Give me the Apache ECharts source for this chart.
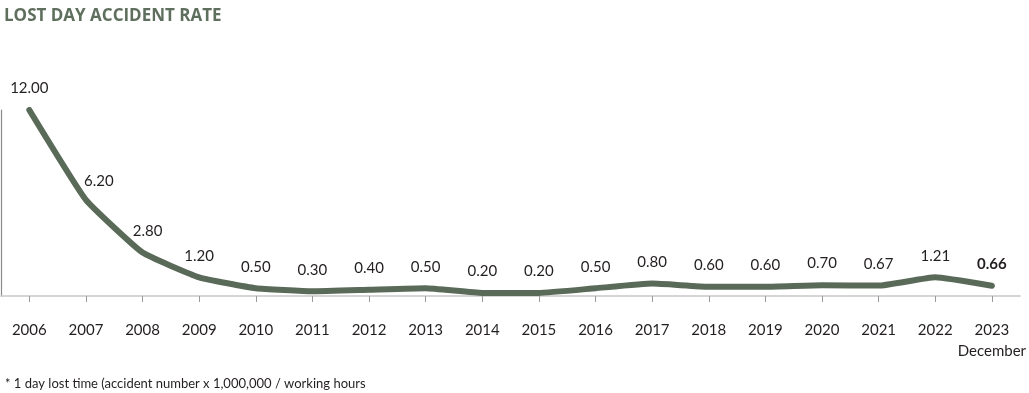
<!DOCTYPE html>
<html><head><meta charset="utf-8">
<script src="https://cdn.jsdelivr.net/npm/echarts@6/dist/echarts.min.js"></script>
<style>html,body{margin:0;padding:0;background:#fff}#c{width:1029px;height:393px}</style>
</head><body><div id="c"></div>
<script>
const titleText = 'LOST DAY ACCIDENT RATE';
const footnote = '* 1 day lost time (accident number x 1,000,000 / working hours';
const years = ['2006','2007','2008','2009','2010','2011','2012','2013','2014','2015','2016','2017','2018','2019','2020','2021','2022','2023\nDecember'];
const rates = [12.00, 6.20, 2.80, 1.20, 0.50, 0.30, 0.40, 0.50, 0.20, 0.20, 0.50, 0.80, 0.60, 0.60, 0.70, 0.67, 1.21, 0.66];

const chart = echarts.init(document.getElementById('c'), null, {renderer:'canvas'});
const lineColor = '#5a6a58';
const txt = '#231f20';
const font = 'Lato';
chart.setOption({
  animation:false,
  title:[{text:titleText, left:-1, top:3, textStyle:{fontFamily:'Open Sans', fontWeight:'bold', fontSize:17, color:'#5f6f5d'}},
         {text:footnote, left:0, top:372, textStyle:{fontFamily:font, fontWeight:'normal', fontSize:13, color:txt}}],
  grid:{left:1, right:8, top:110, bottom:97},
  xAxis:{type:'category', data:years, boundaryGap:true,
    axisLine:{lineStyle:{color:'#c8c8c8', width:1.5}},
    axisTick:{show:true, alignWithLabel:true, length:6, lineStyle:{color:'#9a9a9a', width:1}},
    axisLabel:{fontFamily:font, fontSize:15, color:txt, margin:24, lineHeight:21, interval:0}},
  yAxis:{type:'value', min:0, max:12, axisLine:{show:true, lineStyle:{color:'#8a8a8a', width:1.2}},
    axisLabel:{show:false}, axisTick:{show:false}, splitLine:{show:false}},
  series:[{type:'line', data:rates, smooth:0.12, symbol:'circle', symbolSize:0.1, showSymbol:true,
    itemStyle:{color:lineColor},
    lineStyle:{color:lineColor, width:6, cap:'round', join:'round'},
    labelLayout:p => ({hideOverlap:false, dx: p.dataIndex === 1 ? 13 : (p.dataIndex === 2 ? 5 : 0), dy: p.dataIndex === 1 ? 3 : 0}),
    label:{show:true, position:'top', distance:14, fontFamily:font, fontSize:15, color:txt,
      formatter:p => p.dataIndex === rates.length-1 ? '{b|'+p.value.toFixed(2)+'}' : p.value.toFixed(2),
      rich:{b:{fontFamily:font, fontSize:15, fontWeight:'bold', color:txt}}}
  }]
});
</script></body></html>
